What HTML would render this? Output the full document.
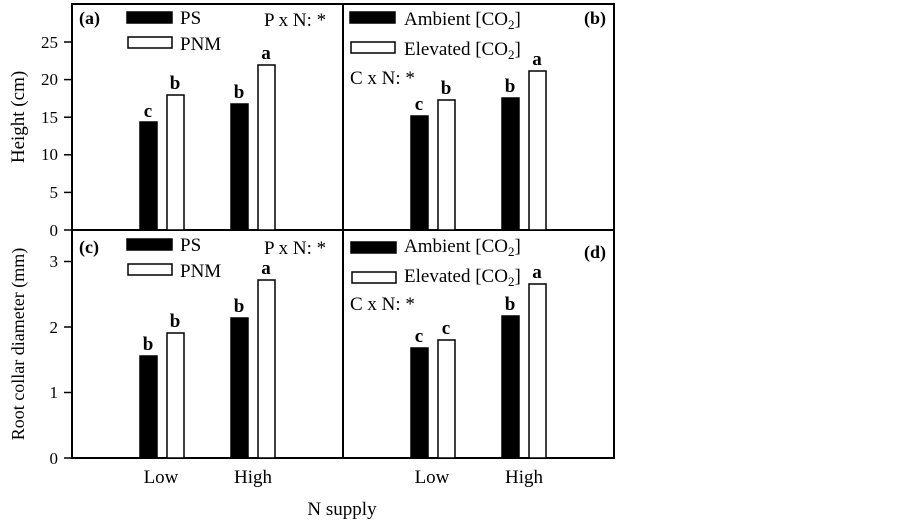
<!DOCTYPE html>
<html><head><style>body{margin:0;background:#fff}</style></head><body>
<svg width="902" height="520" xmlns="http://www.w3.org/2000/svg" font-family="Liberation Serif, serif">
<rect x="0" y="0" width="902" height="520" fill="#fff"/>
<g fill="none" stroke="#000" stroke-width="2">
<rect x="72" y="4" width="542" height="454"/>
<line x1="343" y1="4" x2="343" y2="458"/>
<line x1="72" y1="230" x2="614" y2="230"/>
</g>
<g stroke="#000" stroke-width="1.5">
<line x1="64" y1="230" x2="72" y2="230"/><line x1="64" y1="192.4" x2="72" y2="192.4"/><line x1="64" y1="154.8" x2="72" y2="154.8"/><line x1="64" y1="117.2" x2="72" y2="117.2"/><line x1="64" y1="79.6" x2="72" y2="79.6"/><line x1="64" y1="42" x2="72" y2="42"/>
<line x1="64" y1="458" x2="72" y2="458"/><line x1="64" y1="392.5" x2="72" y2="392.5"/><line x1="64" y1="327" x2="72" y2="327"/><line x1="64" y1="261.5" x2="72" y2="261.5"/>
</g>
<g font-size="17" text-anchor="end">
<text x="58" y="236">0</text><text x="58" y="198">5</text><text x="58" y="160">10</text><text x="58" y="123">15</text><text x="58" y="85">20</text><text x="58" y="48">25</text>
<text x="58" y="464">0</text><text x="58" y="398">1</text><text x="58" y="333">2</text><text x="58" y="267">3</text>
</g>
<text transform="translate(24,117) rotate(-90)" font-size="19" text-anchor="middle">Height (cm)</text>
<text transform="translate(24,344) rotate(-90)" font-size="18" text-anchor="middle">Root collar diameter (mm)</text>
<g font-size="19" text-anchor="middle">
<text x="161" y="483">Low</text><text x="253" y="483">High</text>
<text x="432" y="483">Low</text><text x="524" y="483">High</text>
<text x="342" y="515">N supply</text>
</g>
<g stroke="#000" stroke-width="1.5">
<rect x="140" y="122" width="17" height="108" fill="#000"/>
<rect x="167" y="95" width="17" height="135" fill="#fff"/>
<rect x="231" y="104" width="17" height="126" fill="#000"/>
<rect x="258" y="65" width="17" height="165" fill="#fff"/>
<rect x="411" y="116" width="17" height="114" fill="#000"/>
<rect x="438" y="100" width="17" height="130" fill="#fff"/>
<rect x="502" y="98" width="17" height="132" fill="#000"/>
<rect x="529" y="71" width="17" height="159" fill="#fff"/>
<rect x="140" y="356" width="17" height="102" fill="#000"/>
<rect x="167" y="333" width="17" height="125" fill="#fff"/>
<rect x="231" y="318" width="17" height="140" fill="#000"/>
<rect x="258" y="280" width="17" height="178" fill="#fff"/>
<rect x="411" y="348" width="17" height="110" fill="#000"/>
<rect x="438" y="340" width="17" height="118" fill="#fff"/>
<rect x="502" y="316" width="17" height="142" fill="#000"/>
<rect x="529" y="284" width="17" height="174" fill="#fff"/>
</g>
<g font-size="19" font-weight="bold" text-anchor="middle">
<text x="148" y="117">c</text><text x="175" y="89">b</text><text x="239" y="98">b</text><text x="266" y="59">a</text>
<text x="419" y="110">c</text><text x="446" y="94">b</text><text x="510" y="92">b</text><text x="537" y="65">a</text>
<text x="148" y="350">b</text><text x="175" y="327">b</text><text x="239" y="312">b</text><text x="266" y="274">a</text>
<text x="419" y="342">c</text><text x="446" y="334">c</text><text x="510" y="310">b</text><text x="537" y="278">a</text>
</g>
<g stroke="#000" stroke-width="1.5">
<rect x="127" y="12" width="45" height="11" fill="#000"/><rect x="128" y="37" width="44" height="11" fill="#fff"/>
<rect x="350" y="12" width="45" height="11" fill="#000"/><rect x="351" y="42" width="44" height="11" fill="#fff"/>
<rect x="127" y="239" width="45" height="11" fill="#000"/><rect x="128" y="264" width="44" height="11" fill="#fff"/>
<rect x="351" y="242" width="45" height="11" fill="#000"/><rect x="352" y="272" width="44" height="11" fill="#fff"/>
</g>
<g font-size="19">
<text x="180" y="24">PS</text><text x="180" y="50">PNM</text>
<text x="264" y="26">P x N: *</text>
<text x="404" y="25">Ambient [CO<tspan font-size="13" dy="4">2</tspan><tspan dy="-4">]</tspan></text>
<text x="404" y="55">Elevated [CO<tspan font-size="13" dy="4">2</tspan><tspan dy="-4">]</tspan></text>
<text x="350" y="84">C x N: *</text>
<text x="180" y="251">PS</text><text x="180" y="277">PNM</text>
<text x="264" y="254">P x N: *</text>
<text x="404" y="252">Ambient [CO<tspan font-size="13" dy="4">2</tspan><tspan dy="-4">]</tspan></text>
<text x="404" y="282">Elevated [CO<tspan font-size="13" dy="4">2</tspan><tspan dy="-4">]</tspan></text>
<text x="350" y="310">C x N: *</text>
</g>
<g font-size="18" font-weight="bold">
<text x="79" y="24">(a)</text><text x="584" y="24">(b)</text>
<text x="79" y="253">(c)</text><text x="584" y="258">(d)</text>
</g>
</svg>
</body></html>
